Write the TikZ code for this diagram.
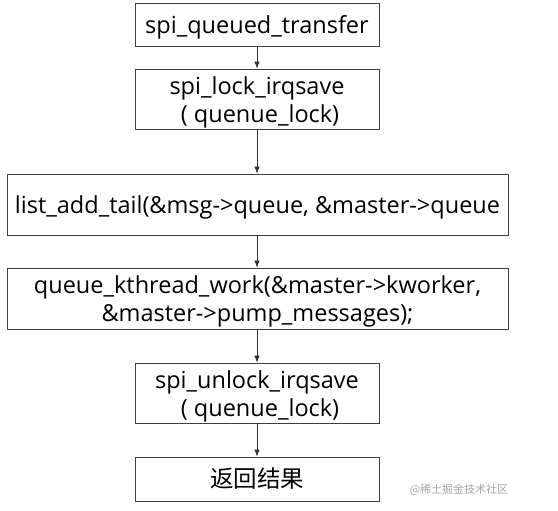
\documentclass[tikz,border=0pt]{standalone}
\usepackage{fontspec}
\setmainfont{Open Sans}
\newfontfamily\cjk{Noto Sans CJK SC}
\usetikzlibrary{arrows.meta}
\newcommand\upstrut{\rule{0pt}{24pt}}
\begin{document}
\begin{tikzpicture}[x=1pt,y=-1pt,
  box/.style={draw=black!75, line width=0.8pt, fill=white, align=center, inner sep=0pt,
    font=\fontsize{23.5}{28}\selectfont},
  narrow/.style={box, minimum width=244pt},
  wide/.style={box, minimum width=501pt},
  arr/.style={draw=black!80, line width=0.7pt, -{Latex[length=7pt,width=5.5pt]}}]
\useasboundingbox (0,0) rectangle (558,511);
\node[narrow, minimum height=43pt] (a) at (257,24.5) {\upstrut spi\_queued\_transfer};
\node[narrow, minimum height=60pt] (b) at (257,99) {\upstrut spi\_lock\_irqsave\\ \ ( quenue\_lock)};
\node[wide, minimum height=61pt] (c) at (257.5,204.5) {\upstrut list\_add\_tail(\&msg->queue, \&master->queue};
\node[wide, minimum height=61pt] (d) at (257.5,298.5) {\upstrut queue\_kthread\_work(\&master->kworker,\\ \&master->pump\_messages);};
\node[narrow, minimum height=60pt] (e) at (257,393) {\upstrut spi\_unlock\_irqsave\\ \ ( quenue\_lock)};
\node[narrow, minimum height=44pt] (f) at (257,479) {\cjk 返回结果};
\node[font=\cjk\fontsize{11}{13}\selectfont, text=black!35, inner sep=0pt] (w) at (459,490) {@稀土掘金技术社区};
\draw[arr] (a.south -| 257,0) -- (b.north -| 257,0);
\draw[arr] (b.south -| 257,0) -- (c.north -| 257,0);
\draw[arr] (c.south -| 257,0) -- (d.north -| 257,0);
\draw[arr] (d.south -| 257,0) -- (e.north -| 257,0);
\draw[arr] (e.south -| 257,0) -- (f.north -| 257,0);
\end{tikzpicture}
\end{document}
